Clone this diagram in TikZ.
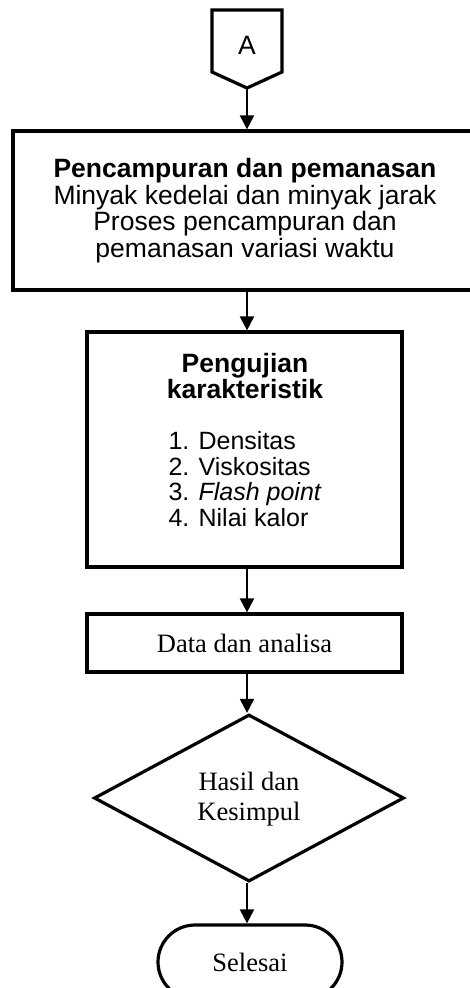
\documentclass[tikz,border=0pt]{standalone}
\usepackage{fontspec}
\setmainfont{Liberation Serif}
\setsansfont{Liberation Sans}
\usepackage{tikz}
\usetikzlibrary{shapes.geometric}
\usetikzlibrary{arrows.meta}

\tikzset{
    box/.style = {draw, line width = 3.2pt, inner sep = 0pt},
    flowarrow/.style = {line width = 2pt, -{Triangle[width = 14pt, length = 14pt]}},
    arialtext/.style = {font = \sffamily\fontsize{26.5}{26.5}\selectfont, align = center},
    timestext/.style = {font = \rmfamily\fontsize{26.5}{30}\selectfont, align = center}
}

\begin{document}
\begin{tikzpicture}[x = 1pt, y = -1pt]
        \useasboundingbox (0, 0) rectangle (470, 988);
        \coordinate (axis) at (247, 0);

        % off-page connector
        \draw[line width = 3.2pt, line join = miter]
            (212, 10) -- (282, 10) -- (282, 72) -- (247, 88) -- (212, 72) -- cycle;
        \node[arialtext] (conA) at (247, 45) {A};
        \coordinate (tipA) at (247, 88);

        % boxes
        \node[box, arialtext, minimum width = 464, minimum height = 159] (mix) at (245, 210.5)
            {\textbf{Pencampuran dan pemanasan}\\Minyak kedelai dan minyak jarak\\
             Proses pencampuran dan\\pemanasan variasi waktu};

        \node[box, minimum width = 315, minimum height = 235] (test) at (244.5, 449.5) {};
        \node[arialtext, font = \sffamily\bfseries\fontsize{26.5}{26}\selectfont] (testtitle)
            at (245, 376) {Pengujian\\karakteristik};
        \node[arialtext, align = left, anchor = west, font = \sffamily\fontsize{25}{25.5}\selectfont]
            (testlist) at (165, 479) {1. Densitas\\2. Viskositas\\3. \textit{Flash point}\\4. Nilai kalor};

        \node[box, timestext, minimum width = 315, minimum height = 58] (data) at (244.5, 643)
            {Data dan analisa};

        \node[box, timestext, shape = diamond, minimum width = 310, minimum height = 167] (result)
            at (249, 798) {\strut Hasil dan\\Kesimpul};

        \node[box, timestext, rounded corners = 37pt, minimum width = 184, minimum height = 74] (done)
            at (250, 962) {Selesai};

        % arrows
        \draw[flowarrow] (tipA) -- (mix.north -| axis);
        \draw[flowarrow] (mix.south -| axis) -- (test.north -| axis);
        \draw[flowarrow] (test.south -| axis) -- (data.north -| axis);
        \draw[flowarrow] (data.south -| axis) -- (result.north -| axis);
        \draw[flowarrow] (result.south -| axis) -- (done.north -| axis);
    \end{tikzpicture}
\end{document}
